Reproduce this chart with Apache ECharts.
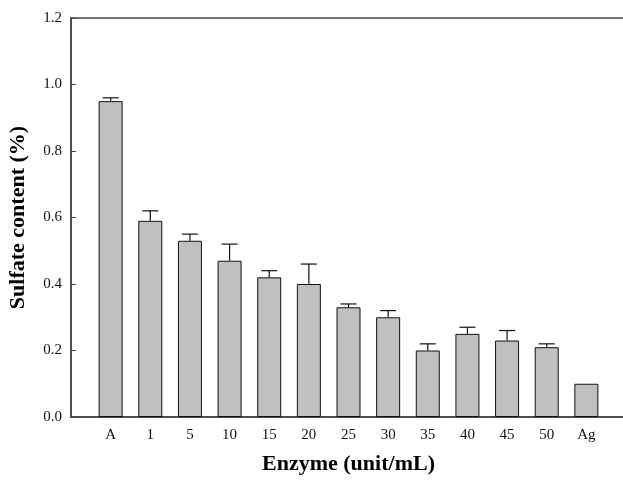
<!DOCTYPE html>
<html>
<head>
<meta charset="utf-8">
<script src="https://cdn.jsdelivr.net/npm/echarts@6/dist/echarts.min.js"></script>
<style>
  html, body { margin: 0; padding: 0; background: #fff; }
  #chart { width: 623px; height: 482px; }
</style>
</head>
<body>
<div id="chart"></div>
<script>
// enzyme dose groups (A = control, Ag = agar)
const categories = ["A", "1", "5", "10", "15", "20", "25", "30", "35", "40", "45", "50", "Ag"];
const sulfate = [0.95, 0.59, 0.53, 0.47, 0.42, 0.40, 0.33, 0.30, 0.20, 0.25, 0.23, 0.21, 0.10];
// top of the error bar (upper side only)
const errTop = [0.96, 0.62, 0.55, 0.52, 0.44, 0.46, 0.34, 0.32, 0.22, 0.27, 0.26, 0.22, null];
const yTicks = [0, 0.2, 0.4, 0.6, 0.8, 1.0, 1.2];

const serif = "Liberation Serif";
const chart = echarts.init(document.getElementById("chart"));

// categories sit at x = 1..13 on a 0..14 value axis
const barData = sulfate.map((v, i) => [i + 1, v]);
const errData = [];
errTop.forEach((t, i) => {
  if (t != null) errData.push([i + 1, sulfate[i], t]);
});

chart.setOption({
  animation: false,
  grid: {
    left: 71, right: -3, top: 18, bottom: 65,
    outerBoundsMode: "none",
    containLabel: false,
    show: true, borderColor: "#444", borderWidth: 1.5
  },
  xAxis: {
    type: "value",
    min: 0, max: categories.length + 1, interval: 1,
    splitLine: { show: false },
    axisTick: { show: false },
    axisLine: { show: true, lineStyle: { color: "#444", width: 1.5 } },
    axisLabel: {
      margin: 11, fontFamily: serif, fontSize: 15, color: "#111",
      formatter: (v) => categories[v - 1] || ""
    },
    name: "Enzyme (unit/mL)",
    nameLocation: "middle",
    nameGap: 36,
    nameTextStyle: { fontFamily: serif, fontSize: 22, fontWeight: "bold", color: "#000" }
  },
  yAxis: {
    type: "value",
    min: yTicks[0], max: yTicks[yTicks.length - 1], interval: 0.2,
    splitLine: { show: false },
    axisLine: { show: true, lineStyle: { color: "#444", width: 1.5 } },
    axisTick: { show: true, inside: true, length: 5, lineStyle: { color: "#444" } },
    axisLabel: {
      margin: 9, fontFamily: serif, fontSize: 15, color: "#111",
      formatter: (v) => v.toFixed(1)
    },
    name: "Sulfate content (%)",
    nameLocation: "middle",
    nameGap: 42,
    nameTextStyle: { fontFamily: serif, fontSize: 22, fontWeight: "bold", color: "#000" }
  },
  series: [
    {
      type: "bar",
      data: barData,
      barWidth: 24,
      itemStyle: { color: "#c0c0c0", borderColor: "#111", borderWidth: 1 }
    },
    {
      type: "custom",
      data: errData,
      z: 3,
      renderItem: (params, api) => {
        const x = api.value(0);
        const base = api.coord([x, api.value(1)]);
        const top = api.coord([x, api.value(2)]);
        const half = 8;
        const style = { stroke: "#111", lineWidth: 1.2 };
        return {
          type: "group",
          children: [
            { type: "line", shape: { x1: base[0], y1: base[1], x2: top[0], y2: top[1] }, style },
            { type: "line", shape: { x1: top[0] - half, y1: top[1], x2: top[0] + half, y2: top[1] }, style }
          ]
        };
      }
    }
  ]
});
</script>
</body>
</html>
